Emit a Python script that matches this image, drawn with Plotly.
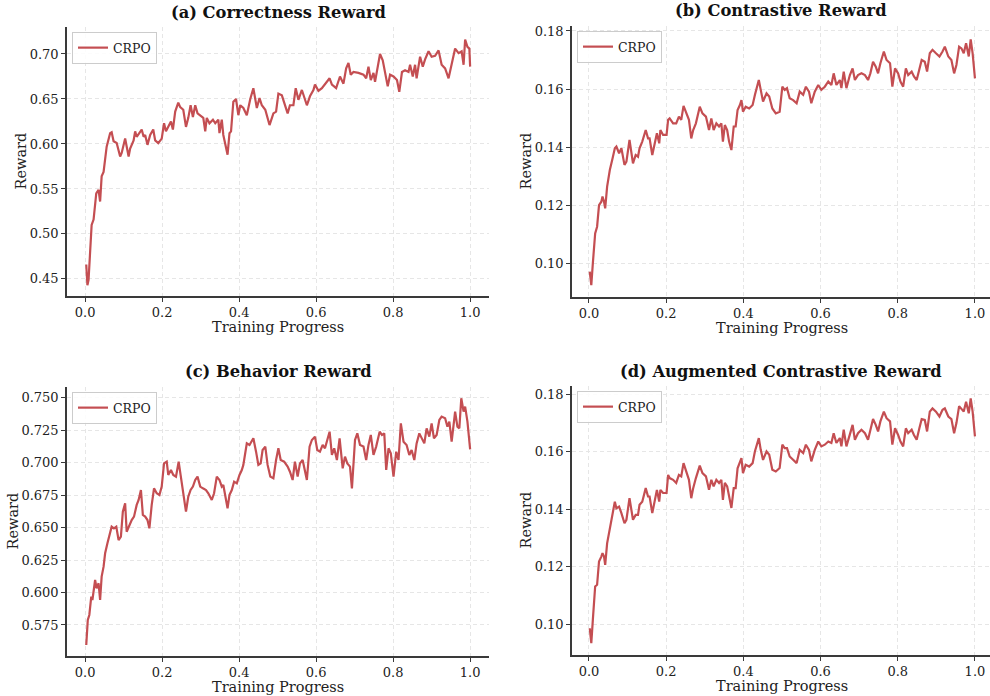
import plotly.graph_objects as go

# ---------------- data ----------------
progress_a = [0.003, 0.006, 0.009, 0.017, 0.022, 0.029, 0.035, 0.039, 0.043, 0.048, 0.056, 0.065, 0.069, 0.074,
              0.082, 0.091, 0.095, 0.104, 0.113, 0.117, 0.126, 0.130, 0.134, 0.143, 0.147, 0.152, 0.156, 0.162,
              0.169, 0.177, 0.182, 0.190, 0.199, 0.205, 0.210, 0.216, 0.223, 0.228, 0.234, 0.242, 0.247, 0.255,
              0.262, 0.268, 0.274, 0.280, 0.286, 0.292, 0.299, 0.307, 0.312, 0.316, 0.323, 0.332, 0.338, 0.346,
              0.349, 0.355, 0.359, 0.365, 0.370, 0.375, 0.379, 0.385, 0.392, 0.398, 0.403, 0.411, 0.420, 0.429,
              0.437, 0.446, 0.453, 0.459, 0.468, 0.479, 0.489, 0.496, 0.502, 0.511, 0.519, 0.526, 0.532, 0.541,
              0.547, 0.554, 0.563, 0.576, 0.584, 0.593, 0.597, 0.606, 0.615, 0.623, 0.635, 0.641, 0.652, 0.662,
              0.671, 0.678, 0.684, 0.690, 0.697, 0.710, 0.723, 0.730, 0.736, 0.742, 0.749, 0.753, 0.759, 0.766,
              0.773, 0.779, 0.786, 0.792, 0.801, 0.810, 0.816, 0.823, 0.831, 0.840, 0.844, 0.851, 0.857, 0.861,
              0.870, 0.877, 0.883, 0.892, 0.900, 0.909, 0.918, 0.926, 0.935, 0.944, 0.950, 0.957, 0.961, 0.970,
              0.978, 0.983, 0.987, 0.993, 0.998, 1.000]
correctness = [0.466, 0.443, 0.449, 0.510, 0.516, 0.545, 0.549, 0.536, 0.564, 0.569, 0.597, 0.612, 0.613, 0.603,
               0.601, 0.586, 0.590, 0.606, 0.586, 0.595, 0.604, 0.614, 0.608, 0.614, 0.616, 0.608, 0.610, 0.599,
               0.610, 0.616, 0.604, 0.601, 0.606, 0.623, 0.614, 0.619, 0.625, 0.616, 0.636, 0.646, 0.641, 0.638,
               0.619, 0.629, 0.643, 0.630, 0.643, 0.634, 0.632, 0.629, 0.614, 0.629, 0.623, 0.627, 0.623, 0.627,
               0.612, 0.627, 0.610, 0.599, 0.588, 0.612, 0.614, 0.647, 0.650, 0.632, 0.643, 0.640, 0.632, 0.650,
               0.662, 0.640, 0.651, 0.643, 0.638, 0.621, 0.634, 0.636, 0.656, 0.654, 0.643, 0.634, 0.643, 0.643,
               0.662, 0.649, 0.660, 0.643, 0.653, 0.660, 0.666, 0.659, 0.662, 0.666, 0.673, 0.666, 0.662, 0.675,
               0.667, 0.684, 0.690, 0.677, 0.680, 0.679, 0.677, 0.673, 0.686, 0.671, 0.679, 0.669, 0.682, 0.700,
               0.693, 0.679, 0.664, 0.677, 0.675, 0.671, 0.658, 0.680, 0.682, 0.680, 0.688, 0.675, 0.688, 0.673,
               0.697, 0.686, 0.694, 0.703, 0.697, 0.698, 0.704, 0.688, 0.684, 0.673, 0.686, 0.701, 0.706, 0.701,
               0.703, 0.688, 0.716, 0.708, 0.706, 0.686]

progress_bd = [0.002, 0.006, 0.010, 0.016, 0.021, 0.026, 0.032, 0.035, 0.039, 0.042, 0.047, 0.054, 0.061, 0.067,
               0.071, 0.078, 0.084, 0.092, 0.097, 0.105, 0.114, 0.121, 0.127, 0.131, 0.138, 0.147, 0.153, 0.157,
               0.164, 0.170, 0.176, 0.182, 0.185, 0.192, 0.201, 0.205, 0.209, 0.218, 0.226, 0.233, 0.239, 0.245,
               0.252, 0.259, 0.265, 0.270, 0.277, 0.283, 0.287, 0.294, 0.303, 0.311, 0.317, 0.323, 0.330, 0.337,
               0.343, 0.347, 0.352, 0.358, 0.363, 0.369, 0.375, 0.380, 0.385, 0.391, 0.395, 0.399, 0.406, 0.415,
               0.424, 0.430, 0.436, 0.440, 0.445, 0.451, 0.460, 0.467, 0.475, 0.484, 0.494, 0.501, 0.507, 0.513,
               0.520, 0.529, 0.538, 0.546, 0.555, 0.562, 0.570, 0.576, 0.585, 0.594, 0.602, 0.611, 0.620, 0.628,
               0.634, 0.641, 0.650, 0.654, 0.660, 0.667, 0.676, 0.683, 0.689, 0.697, 0.706, 0.715, 0.723, 0.729,
               0.736, 0.743, 0.749, 0.755, 0.764, 0.771, 0.780, 0.786, 0.793, 0.801, 0.807, 0.814, 0.821, 0.827,
               0.836, 0.842, 0.849, 0.856, 0.862, 0.870, 0.876, 0.883, 0.890, 0.899, 0.908, 0.916, 0.922, 0.931,
               0.939, 0.946, 0.952, 0.959, 0.965, 0.971, 0.977, 0.984, 0.989, 0.994, 1.000]
contrastive = [0.0971, 0.0925, 0.1000, 0.1103, 0.1126, 0.1200, 0.1212, 0.1230, 0.1212, 0.1189, 0.1264, 0.1321,
               0.1361, 0.1396, 0.1402, 0.1379, 0.1396, 0.1339, 0.1350, 0.1425, 0.1344, 0.1373, 0.1367, 0.1396,
               0.1419, 0.1459, 0.1430, 0.1430, 0.1373, 0.1413, 0.1448, 0.1413, 0.1459, 0.1442, 0.1442, 0.1494,
               0.1499, 0.1482, 0.1482, 0.1505, 0.1494, 0.1542, 0.1516, 0.1494, 0.1430, 0.1459, 0.1482, 0.1522,
               0.1539, 0.1516, 0.1505, 0.1459, 0.1499, 0.1459, 0.1482, 0.1471, 0.1482, 0.1419, 0.1476, 0.1459,
               0.1419, 0.1390, 0.1471, 0.1471, 0.1528, 0.1545, 0.1562, 0.1522, 0.1539, 0.1533, 0.1545, 0.1580,
               0.1608, 0.1631, 0.1597, 0.1557, 0.1585, 0.1574, 0.1533, 0.1516, 0.1522, 0.1608, 0.1597, 0.1603,
               0.1568, 0.1562, 0.1551, 0.1591, 0.1580, 0.1608, 0.1591, 0.1551, 0.1591, 0.1614, 0.1597, 0.1608,
               0.1626, 0.1614, 0.1654, 0.1614, 0.1631, 0.1603, 0.1660, 0.1603, 0.1648, 0.1671, 0.1631, 0.1648,
               0.1654, 0.1648, 0.1631, 0.1654, 0.1694, 0.1677, 0.1654, 0.1689, 0.1729, 0.1700, 0.1689, 0.1608,
               0.1671, 0.1654, 0.1626, 0.1608, 0.1671, 0.1648, 0.1660, 0.1643, 0.1631, 0.1666, 0.1700, 0.1694,
               0.1660, 0.1723, 0.1735, 0.1723, 0.1712, 0.1729, 0.1746, 0.1712, 0.1700, 0.1654, 0.1683, 0.1746,
               0.1740, 0.1723, 0.1758, 0.1712, 0.1771, 0.1723, 0.1637]
augmented = [0.0986, 0.0934, 0.1015, 0.1131, 0.1137, 0.1218, 0.1235, 0.1247, 0.1235, 0.1206, 0.1281, 0.1333,
             0.1374, 0.1426, 0.1403, 0.1409, 0.1386, 0.1351, 0.1363, 0.1438, 0.1363, 0.1380, 0.1380, 0.1415,
             0.1426, 0.1473, 0.1444, 0.1444, 0.1386, 0.1432, 0.1467, 0.1426, 0.1467, 0.1456, 0.1456, 0.1519,
             0.1508, 0.1502, 0.1491, 0.1519, 0.1514, 0.1560, 0.1531, 0.1502, 0.1438, 0.1473, 0.1508, 0.1537,
             0.1551, 0.1525, 0.1514, 0.1467, 0.1502, 0.1479, 0.1502, 0.1491, 0.1502, 0.1432, 0.1491, 0.1479,
             0.1450, 0.1404, 0.1473, 0.1473, 0.1542, 0.1565, 0.1577, 0.1525, 0.1554, 0.1548, 0.1560, 0.1601,
             0.1630, 0.1647, 0.1606, 0.1571, 0.1601, 0.1589, 0.1537, 0.1531, 0.1543, 0.1624, 0.1612, 0.1612,
             0.1583, 0.1571, 0.1560, 0.1606, 0.1595, 0.1624, 0.1606, 0.1566, 0.1606, 0.1635, 0.1618, 0.1624,
             0.1635, 0.1630, 0.1664, 0.1630, 0.1647, 0.1618, 0.1676, 0.1618, 0.1664, 0.1693, 0.1641, 0.1664,
             0.1676, 0.1664, 0.1641, 0.1670, 0.1713, 0.1693, 0.1670, 0.1705, 0.1739, 0.1716, 0.1705, 0.1624,
             0.1681, 0.1658, 0.1635, 0.1618, 0.1681, 0.1664, 0.1676, 0.1658, 0.1641, 0.1681, 0.1713, 0.1710,
             0.1670, 0.1739, 0.1750, 0.1739, 0.1722, 0.1745, 0.1750, 0.1722, 0.1713, 0.1664, 0.1699, 0.1758,
             0.1750, 0.1739, 0.1773, 0.1733, 0.1785, 0.1739, 0.1653]

progress_c = [0.003, 0.007, 0.011, 0.016, 0.019, 0.022, 0.026, 0.030, 0.035, 0.039, 0.043, 0.048, 0.052, 0.058,
              0.065, 0.069, 0.075, 0.081, 0.087, 0.093, 0.098, 0.104, 0.108, 0.115, 0.121, 0.127, 0.134, 0.139,
              0.145, 0.150, 0.156, 0.162, 0.167, 0.173, 0.179, 0.186, 0.193, 0.199, 0.205, 0.212, 0.216, 0.223,
              0.229, 0.236, 0.243, 0.248, 0.255, 0.262, 0.268, 0.274, 0.280, 0.286, 0.292, 0.299, 0.306, 0.314,
              0.320, 0.329, 0.335, 0.342, 0.349, 0.355, 0.359, 0.364, 0.370, 0.375, 0.381, 0.387, 0.394, 0.401,
              0.407, 0.411, 0.416, 0.420, 0.427, 0.433, 0.437, 0.444, 0.450, 0.456, 0.461, 0.468, 0.474, 0.481,
              0.489, 0.496, 0.502, 0.508, 0.517, 0.526, 0.532, 0.539, 0.545, 0.552, 0.558, 0.565, 0.571, 0.576,
              0.583, 0.589, 0.597, 0.603, 0.610, 0.617, 0.623, 0.628, 0.635, 0.641, 0.647, 0.654, 0.661, 0.669,
              0.675, 0.681, 0.688, 0.693, 0.697, 0.701, 0.707, 0.714, 0.723, 0.730, 0.736, 0.742, 0.749, 0.756,
              0.765, 0.771, 0.777, 0.782, 0.788, 0.794, 0.801, 0.808, 0.814, 0.820, 0.827, 0.835, 0.842, 0.848,
              0.855, 0.861, 0.868, 0.874, 0.881, 0.887, 0.894, 0.900, 0.906, 0.913, 0.920, 0.926, 0.935, 0.941,
              0.946, 0.952, 0.957, 0.961, 0.967, 0.972, 0.977, 0.983, 0.987, 0.993, 1.000]
behavior = [0.5596, 0.5789, 0.5827, 0.5968, 0.5942, 0.5994, 0.6096, 0.6032, 0.6071, 0.5942, 0.6122, 0.6199,
            0.6302, 0.6379, 0.6468, 0.6507, 0.6494, 0.6507, 0.6404, 0.6430, 0.6622, 0.6687, 0.6468, 0.6520,
            0.6558, 0.6584, 0.6674, 0.6712, 0.6789, 0.6597, 0.6584, 0.6558, 0.6494, 0.6674, 0.6802, 0.6764,
            0.6751, 0.6815, 0.6994, 0.7007, 0.6905, 0.6943, 0.6905, 0.6892, 0.7007, 0.6905, 0.6764, 0.6622,
            0.6738, 0.6789, 0.6815, 0.6866, 0.6892, 0.6815, 0.6802, 0.6789, 0.6764, 0.6712, 0.6764, 0.6892,
            0.6866, 0.6815, 0.6828, 0.6738, 0.6648, 0.6751, 0.6789, 0.6853, 0.6840, 0.6905, 0.6943, 0.6982,
            0.7071, 0.7148, 0.7136, 0.7161, 0.7187, 0.7084, 0.6982, 0.6994, 0.7097, 0.7123, 0.6982, 0.6892,
            0.6879, 0.7020, 0.7110, 0.7020, 0.7007, 0.6969, 0.6930, 0.6866, 0.7007, 0.6892, 0.6994, 0.7020,
            0.6943, 0.6866, 0.7123, 0.7174, 0.7200, 0.7097, 0.7084, 0.7136, 0.7110, 0.7161, 0.7238, 0.7059,
            0.7110, 0.7020, 0.7187, 0.6956, 0.7046, 0.6994, 0.6969, 0.6802, 0.7007, 0.7174, 0.7225, 0.7136,
            0.7123, 0.7020, 0.7136, 0.7213, 0.7059, 0.7123, 0.7238, 0.7213, 0.7225, 0.6943, 0.7110, 0.7071,
            0.6892, 0.7084, 0.7020, 0.7302, 0.7161, 0.7136, 0.7059, 0.7097, 0.7020, 0.7148, 0.7225, 0.7187,
            0.7148, 0.7264, 0.7200, 0.7302, 0.7187, 0.7213, 0.7328, 0.7354, 0.7341, 0.7277, 0.7315, 0.7161,
            0.7315, 0.7392, 0.7277, 0.7264, 0.7495, 0.7392, 0.7431, 0.7315, 0.7102]

titles = ["(a) Correctness Reward", "(b) Contrastive Reward", "(c) Behavior Reward",
          "(d) Augmented Contrastive Reward"]
series_name = "CRPO"
x_ticks = [0.0, 0.2, 0.4, 0.6, 0.8, 1.0]
y_ticks_a = [0.45, 0.50, 0.55, 0.60, 0.65, 0.70]
y_ticks_b = [0.10, 0.12, 0.14, 0.16, 0.18]
y_ticks_c = [0.575, 0.600, 0.625, 0.650, 0.675, 0.700, 0.725, 0.750]
y_ticks_d = [0.10, 0.12, 0.14, 0.16, 0.18]

# ---------------- figure ----------------
W, H = 990, 696
FONT = "DejaVu Serif"
LINE = "#c44e52"
AX = "#3a3a3a"

panels = [
    (progress_a, correctness, y_ticks_a, ".2f", (67, 489), (27, 296), (-0.047, 1.049), (0.431, 0.730), 20),
    (progress_bd, contrastive, y_ticks_b, ".2f", (572, 990), (26, 297), (-0.044, 1.039), (0.0884, 0.1817), 525),
    (progress_c, behavior, y_ticks_c, ".3f", (67, 489), (387, 656), (-0.047, 1.049), (0.5511, 0.7582), 13),
    (progress_bd, augmented, y_ticks_d, ".2f", (572, 990), (386, 655), (-0.044, 1.039), (0.0893, 0.1828), 525),
]

fig = go.Figure()
layout = dict(
    width=W, height=H, margin=dict(l=0, r=0, t=0, b=0, autoexpand=False),
    paper_bgcolor="white", plot_bgcolor="white",
    font=dict(family=FONT, size=13, color="#222"),
    showlegend=True,
)
annotations = []
for i, (xs, ys, yt, fmt, xd, yd, xr, yr, ylab_x) in enumerate(panels):
    n = "" if i == 0 else str(i + 1)
    leg = "legend" + n
    fig.add_trace(go.Scatter(x=xs, y=ys, mode="lines", name=series_name,
                             line=dict(color=LINE, width=2.2),
                             xaxis="x" + n, yaxis="y" + n, legend=leg))
    xdom = [xd[0] / W, xd[1] / W]
    ydom = [1 - yd[1] / H, 1 - yd[0] / H]
    common = dict(showline=True, linecolor=AX, linewidth=1.6, ticks="outside", ticklen=4,
                  tickwidth=1.2, tickcolor=AX, showgrid=True, gridcolor="#e6e6e6",
                  griddash="4px,3px", gridwidth=0.8, zeroline=False, mirror=False, automargin=False,
                  tickfont=dict(family=FONT, size=13, color="#222"))
    layout["xaxis" + n] = dict(domain=xdom, range=list(xr), tickvals=x_ticks, tickformat=".1f",
                               anchor="y" + n, **common)
    layout["yaxis" + n] = dict(domain=ydom, range=list(yr), tickvals=yt, tickformat=fmt,
                               anchor="x" + n, **common)
    layout[leg] = dict(x=(xd[0] + 5) / W, y=1 - (yd[0] + 5) / H, xanchor="left", yanchor="top",
                       bgcolor="rgba(255,255,255,0.85)", bordercolor="#cccccc", borderwidth=1,
                       font=dict(family=FONT, size=12.5, color="#222"),
                       itemwidth=30, tracegroupgap=0)
    annotations.append(dict(text="<b>" + titles[i] + "</b>", x=(xdom[0] + xdom[1]) / 2,
                            y=1 - (yd[0] - 15) / H, xref="paper", yref="paper",
                            xanchor="center", yanchor="middle", showarrow=False,
                            font=dict(family=FONT, size=16.3, color="#111")))
    # x axis title
    annotations.append(dict(text="Training Progress", x=(xdom[0] + xdom[1]) / 2 if i % 2 == 0 else (xd[0] + 17 + 0.5 * 386) / W,
                            y=1 - (yd[1] + 31) / H, xref="paper", yref="paper",
                            xanchor="center", yanchor="middle", showarrow=False,
                            font=dict(family=FONT, size=14.5, color="#222")))
    # y axis title
    annotations.append(dict(text="Reward", x=ylab_x / W, y=(ydom[0] + ydom[1]) / 2,
                            xref="paper", yref="paper", textangle=-90,
                            xanchor="center", yanchor="middle", showarrow=False,
                            font=dict(family=FONT, size=14.5, color="#222")))
layout["annotations"] = annotations
fig.update_layout(**layout)
fig.write_html("out.html", config={"displayModeBar": False},
               post_script="document.body.style.margin='0px';")
